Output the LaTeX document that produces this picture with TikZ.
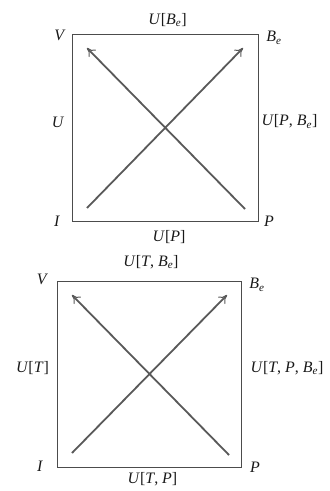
\documentclass[tikz,border=0pt]{standalone}
\usepackage{fontspec}
\setmainfont{Liberation Serif}
\usetikzlibrary{arrows.meta}
\newcommand{\myBe}{\textit{B}\textsubscript{\textit{e}}}
\newcommand{\myU}{\textit{U}}
\begin{document}
\begin{tikzpicture}[x=1bp,y=-1bp,
  lbl/.style={inner sep=0pt, font=\fontsize{16}{18}\selectfont, text=black!90},
  box/.style={draw=black!70, line width=1bp},
  flow/.style={draw=black!65, line width=1.8bp, -{To[length=8bp,width=10bp,line width=1bp]}}]
\useasboundingbox (0,0) rectangle (329,491);
% top square
\coordinate (V1) at (72,35);
\coordinate (B1) at (258,35);
\coordinate (P1) at (258,221);
\coordinate (I1) at (72,221);
\draw[box] (V1) -- (B1) -- (P1) -- (I1) -- cycle;
\coordinate (s1a) at (87,208);
\coordinate (e1a) at (243,48);
\coordinate (s1b) at (245,209);
\coordinate (e1b) at (87,48);
\draw[flow] (s1a) -- (e1a);
\draw[flow] (s1b) -- (e1b);
\node[lbl] (tV1) at (60,35.5) {\textit{V}};
\node[lbl] (tB1) at (274,38) {\myBe};
\node[lbl] (tI1) at (57,221) {\textit{I}};
\node[lbl] (tP1) at (269,221) {\textit{P}};
\node[lbl] (tU1) at (58,122) {\myU};
\node[lbl] (tR1) at (289.5,121.5) {\myU[\textit{P}, \myBe]};
\node[lbl] (tT1) at (167.5,20) {\myU[\myBe]};
\node[lbl] (tD1) at (169,237) {\myU[\textit{P}]};
% bottom square
\coordinate (V2) at (57,281);
\coordinate (B2) at (241,281);
\coordinate (P2) at (241,467);
\coordinate (I2) at (57,467);
\draw[box] (V2) -- (B2) -- (P2) -- (I2) -- cycle;
\coordinate (s2a) at (72,453);
\coordinate (e2a) at (227,295);
\coordinate (s2b) at (229,455);
\coordinate (e2b) at (72,295);
\draw[flow] (s2a) -- (e2a);
\draw[flow] (s2b) -- (e2b);
\node[lbl] (tV2) at (42.5,279) {\textit{V}};
\node[lbl] (tB2) at (257,285) {\myBe};
\node[lbl] (tI2) at (40,466) {\textit{I}};
\node[lbl] (tP2) at (255,467) {\textit{P}};
\node[lbl] (tU2) at (32.5,368) {\myU[\textit{T}]};
\node[lbl] (tR2) at (287,368) {\myU[\textit{T}, \textit{P}, \myBe]};
\node[lbl] (tT2) at (151,262) {\myU[\textit{T}, \myBe]};
\node[lbl] (tD2) at (152.5,479) {\myU[\textit{T}, \textit{P}]};
\end{tikzpicture}
\end{document}
